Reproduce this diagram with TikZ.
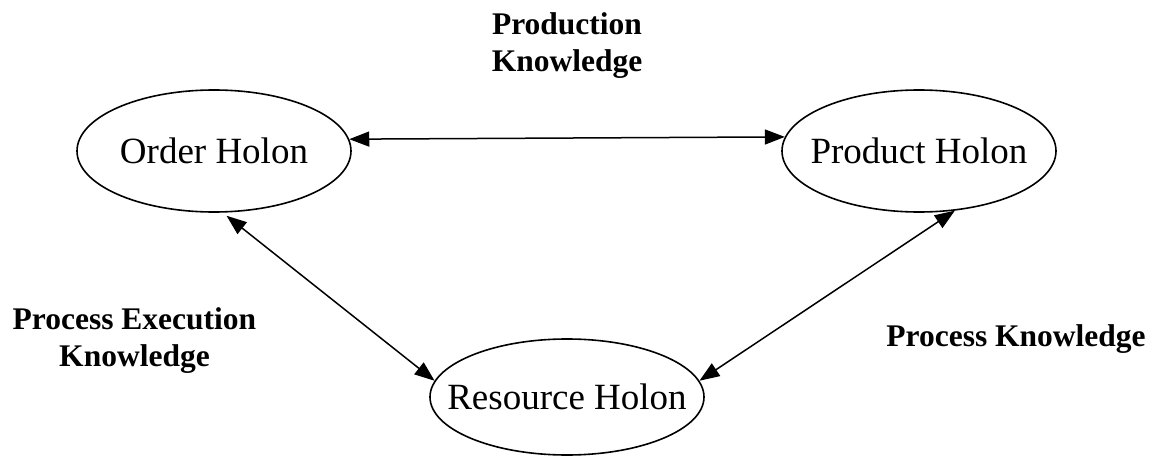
\documentclass[tikz,border=0pt]{standalone}
\usepackage{fontspec}
\setmainfont{Liberation Serif}
\usetikzlibrary{shapes.geometric,arrows.meta}
\begin{document}
\begin{tikzpicture}[x=1pt,y=-1pt,
  holon/.style={draw, ellipse, line width=1.6pt, minimum width=274pt, minimum height=122pt,
    inner xsep=-40pt, inner ysep=0pt, font=\fontsize{37}{44}\selectfont},
  klabel/.style={inner sep=0pt, align=center, font=\fontsize{31.5}{37}\selectfont\bfseries},
  link/.style={line width=1.5pt, {Triangle[length=20pt,width=15pt]}-{Triangle[length=20pt,width=15pt]}}]
\useasboundingbox[fill=white] (0,0) rectangle (1152,457);
\node[holon] (order) at (214,151) {Order Holon};
\node[holon] (product) at (919,151) {Product Holon};
\node[holon, minimum height=116pt] (resource) at (567,397) {Resource Holon};
\node[klabel] (lprod) at (567,46) {Production\\Knowledge};
\node[klabel] (lexec) at (134.5,341) {Process Execution\\Knowledge};
\node[klabel] (lproc) at (1016,339) {Process Knowledge};
\draw[link] (order.5.5) -- (product.174.5);
\draw[link, shorten <=5pt] (order.-82.4) -- (resource.173);
\draw[link] (product.-59.5) -- (resource.7);
\end{tikzpicture}
\end{document}
